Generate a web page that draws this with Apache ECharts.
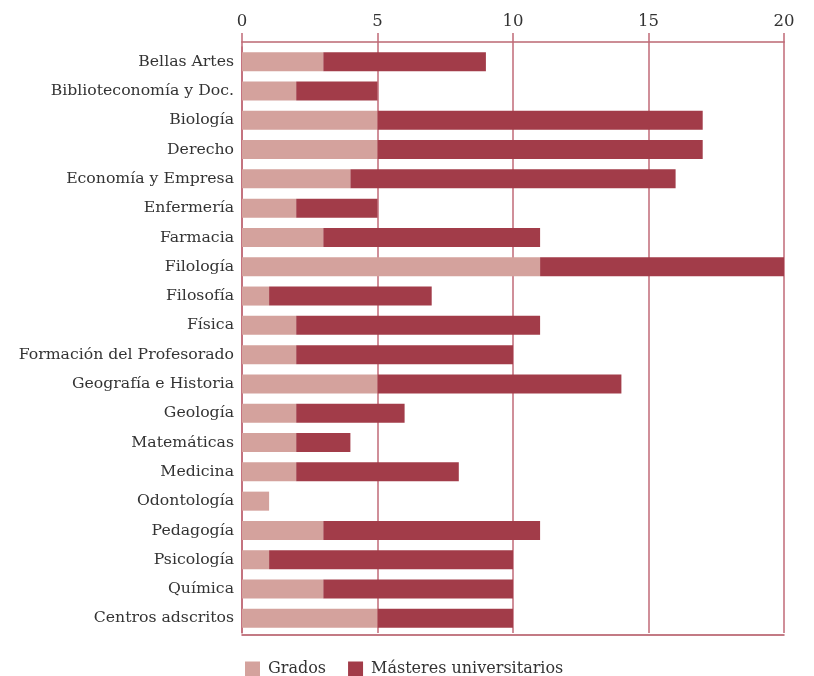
<!DOCTYPE html>
<html><head><meta charset="utf-8">
<script src="https://cdn.jsdelivr.net/npm/echarts@6/dist/echarts.min.js"></script>
<style>html,body{margin:0;padding:0;background:#fff}#c{width:814px;height:676px}</style>
</head><body><div id="c"></div>
<script>
const categories = ["Bellas Artes","Biblioteconomía y Doc.","Biología","Derecho","Economía y Empresa","Enfermería","Farmacia","Filología","Filosofía","Física","Formación del Profesorado","Geografía e Historia","Geología","Matemáticas","Medicina","Odontología","Pedagogía","Psicología","Química","Centros adscritos"];
const grados = [3,2,5,5,4,2,3,11,1,2,2,5,2,2,2,1,3,1,3,5];
const masteres = [6,3,12,12,12,3,8,9,6,9,8,9,4,2,6,0,8,9,7,5];
const seriesNames = ["Grados","Másteres universitarios"];
const xTicks = [0,5,10,15,20];

const FONT = "DejaVu Serif";
const GRID = '#c06a77';
const xMin = xTicks[0], xMax = xTicks[xTicks.length-1];
const chart = echarts.init(document.getElementById('c'));
chart.setOption({
  animation:false,
  textStyle:{fontFamily:FONT},
  grid:{left:242,right:30,top:47,bottom:43},
  legend:{top:656,left:240,itemWidth:15,itemHeight:15,itemGap:22,icon:'rect',
    textStyle:{fontFamily:FONT,fontSize:16,color:'#333',padding:[0,0,0,3]},data:seriesNames},
  xAxis:[
    {type:'value',position:'top',offset:5,min:xMin,max:xMax,interval:5,
     axisLine:{show:true,lineStyle:{color:'#cc8d95',width:2}},
     axisTick:{show:true,length:9,lineStyle:{color:GRID,width:1.5}},
     axisLabel:{fontFamily:FONT,fontSize:16.5,color:'#333',margin:12},
     splitLine:{show:true,lineStyle:{color:GRID,width:1.5}}},
    {type:'value',position:'top',offset:0,min:xMin,max:xMax,interval:5,
     axisLine:{show:false},axisLabel:{show:false},splitLine:{show:false},
     axisTick:{show:true,length:14,lineStyle:{color:GRID,width:1.5}}},
    {type:'value',position:'bottom',offset:2,min:xMin,max:xMax,interval:5,
     axisLine:{show:true,lineStyle:{color:'#b04f5c',width:1.5}},
     axisLabel:{show:false},axisTick:{show:false},splitLine:{show:false}}
  ],
  yAxis:{type:'category',inverse:true,data:categories,
    axisLine:{show:true,lineStyle:{color:GRID,width:1.5}},
    axisTick:{show:false},
    axisLabel:{fontFamily:FONT,fontSize:15.7,color:'#333',margin:8}},
  series:[
    {name:seriesNames[0],type:'bar',stack:'a',data:grados,barWidth:'65%',itemStyle:{color:'#d4a29d'}},
    {name:seriesNames[1],type:'bar',stack:'a',data:masteres,barWidth:'65%',itemStyle:{color:'#a23c49'}}
  ]
});
</script></body></html>
